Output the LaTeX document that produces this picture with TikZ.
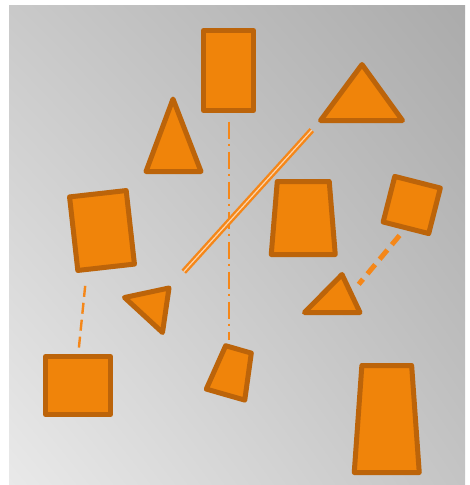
\documentclass[tikz,border=0pt]{standalone}
\usetikzlibrary{shapes.geometric,calc,shadings}
\definecolor{shapeFill}{RGB}{240,132,10}
\definecolor{shapeLine}{RGB}{188,100,10}
\definecolor{linkOrange}{RGB}{245,135,25}
\definecolor{bgTL}{RGB}{201,201,201}
\definecolor{bgTR}{RGB}{171,171,171}
\definecolor{bgBL}{RGB}{233,233,233}
\definecolor{bgBR}{RGB}{196,196,196}
\begin{document}
\begin{tikzpicture}[
    x=1pt, y=-1pt,
    shapebox/.style={draw=shapeLine, fill=shapeFill, line width=5pt, line join=round, inner sep=0pt, outer sep=0pt},
    trap/.style={shapebox, trapezium, trapezium stretches=true, inner sep=1pt},
    link/.style={draw=linkOrange, line width=2pt}
]
\useasboundingbox (0,0) rectangle (470,485);
% Background panel
\shade[upper left=bgTL, upper right=bgTR, lower left=bgBL, lower right=bgBR] (9,5) rectangle (465,485);
% Rectangles and squares
\node[shapebox, minimum width=50pt, minimum height=80pt] (rectTop) at (228.5,70.5) {};
\node[shapebox, minimum width=57pt, minimum height=74pt, rotate=6.4] (boxLeft) at (102,230.5) {};
\node[shapebox, minimum width=47pt, minimum height=47pt, rotate=-14.3] (boxRight) at (411.75,205) {};
\node[shapebox, minimum width=65pt, minimum height=58pt] (boxBottom) at (78,385.5) {};
% Trapezia
\node[trap, minimum width=64pt, minimum height=73pt, trapezium left angle=83.4, trapezium right angle=83.4] (trapMid) at (303.25,218) {};
\node[trap, minimum width=40pt, minimum height=47pt, trapezium left angle=76, trapezium right angle=76, rotate=-16] (trapSmall) at (232,372) {};
\node[trap, minimum width=65pt, minimum height=107pt, trapezium left angle=81.3, trapezium right angle=81.3] (trapBottom) at (386.75,419) {};
% Triangles
\draw[shapebox] (362,64.5) -- (402.5,120.5) -- (320.5,120.5) coordinate (triTop-left) -- cycle;
\draw[shapebox] (173,99) -- (201,171.5) -- (146,171.5) -- cycle;
\draw[shapebox] (342,274.5) -- ($(342,274.5)!0.5!(360,312.5)$) coordinate (triRight-side) -- (360,312.5) -- (304.5,312.5) -- cycle;
\draw[shapebox] (124.5,297.5) -- (169,288) coordinate (triLeft-tip) -- (162.5,332.5) -- cycle;
% Connectors
\draw[link, dash pattern=on 17pt off 5pt on 2pt off 6pt, shorten <=11pt, shorten >=6pt]
    (rectTop.south) -- (rectTop.south |- trapSmall.top left corner);
\draw[link, line width=2.4pt, double=linkOrange!35, double distance=1.2pt, shorten <=22pt, shorten >=13pt]
    (triLeft-tip) -- (triTop-left);
\coordinate (boxLeft-foot) at ($(boxLeft.south west)!0.16!(boxLeft.south east)$);
\draw[link, line width=2.4pt, dash pattern=on 11pt off 6pt, shorten <=9pt, shorten >=12pt] (boxBottom.north) -- (boxLeft-foot);
\draw[link, line width=5pt, dash pattern=on 12pt off 7pt, shorten <=10pt, shorten >=12pt] (boxRight.south) -- (triRight-side);
\end{tikzpicture}
\end{document}
